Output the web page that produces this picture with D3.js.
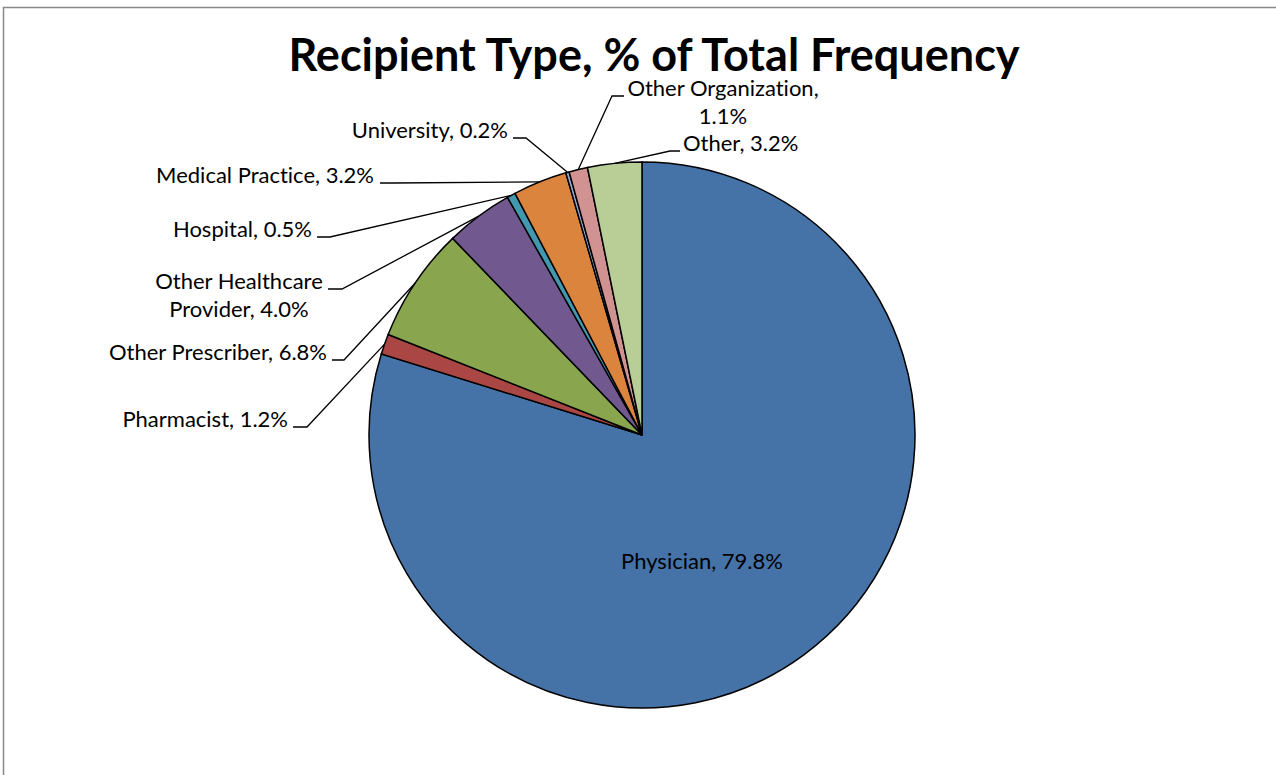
<!DOCTYPE html>
<html lang="en">
<head>
    <meta charset="UTF-8">
    <script src="https://d3js.org/d3.v7.min.js"></script>
    <style>
        body { margin: 0; background: #fff; }
        text { fill: #000; font-variant-ligatures: none; }
        .lbl { font-family: Lato, "Open Sans", sans-serif; font-size: 22px; }
        .title { font-family: Lato, "Open Sans", sans-serif; font-size: 45px; font-weight: bold; }
        .slice { stroke: #000; stroke-width: 1.5px; }
        .leader { fill: none; stroke: #000; stroke-width: 1.3px; }
    </style>
</head>
<body>
<script>
    // chart data
    var categories = ["Physician", "Pharmacist", "Other Prescriber", "Other Healthcare Provider",
        "Hospital", "Medical Practice", "University", "Other Organization", "Other"];
    var shares = [79.8, 1.2, 6.8, 4.0, 0.5, 3.2, 0.2, 1.1, 3.2];
    var palette = ["#4572A7", "#AA4643", "#89A54E", "#71588F", "#4198AF",
        "#DB843D", "#93A9CF", "#D19392", "#B9CD96"];

    // where Excel put each label (x, baseline y, anchor, line break after word n, leader start/end x)
    var labelLayout = [
        { x: 702, y: 569, anchor: "middle" },
        { x: 288, y: 427, anchor: "end", lead: [293, 307] },
        { x: 327, y: 360, anchor: "end", lead: [332, 344] },
        { x: 239, y: 289, anchor: "middle", br: 2, lead: [328, 342] },
        { x: 312, y: 237, anchor: "end", lead: [317, 330] },
        { x: 374, y: 183, anchor: "end", lead: [380, 393] },
        { x: 508, y: 138, anchor: "end", lead: [513, 526] },
        { x: 723, y: 96, anchor: "middle", br: 2, lead: [624, 612] },
        { x: 683, y: 151, anchor: "start", lead: [680, 670] }
    ];

    var width = 1276, height = 775;
    var cx = 642, cy = 435, radius = 273;

    var svg = d3.select("body").append("svg")
        .attr("width", width)
        .attr("height", height);

    // outer frame (only top and left edges show)
    svg.append("rect")
        .attr("x", 3.5).attr("y", 7.5)
        .attr("width", 1400).attr("height", 900)
        .attr("fill", "none")
        .attr("stroke", "#898989")
        .attr("stroke-width", 1.5);

    svg.append("text")
        .attr("class", "title")
        .attr("x", 654).attr("y", 71)
        .attr("text-anchor", "middle")
        .text("Recipient Type, % of Total Frequency");

    var pie = d3.pie().sort(null).value(function (d) { return d; });
    var arcs = pie(shares);

    var arc = d3.arc().innerRadius(0).outerRadius(radius);
    var rim = d3.arc().innerRadius(radius).outerRadius(radius);

    var g = svg.append("g").attr("transform", "translate(" + cx + "," + cy + ")");

    g.selectAll("path.slice")
        .data(arcs)
        .enter().append("path")
        .attr("class", "slice")
        .attr("d", arc)
        .attr("fill", function (d, i) { return palette[i]; });

    // leader lines
    arcs.forEach(function (d, i) {
        var L = labelLayout[i];
        if (!L.lead) return;
        var p = rim.centroid(d);
        var pts = [[L.lead[0], L.y], [L.lead[1], L.y], [p[0] + cx, p[1] + cy]];
        svg.append("path")
            .attr("class", "leader")
            .attr("d", d3.line()(pts));
    });

    // labels
    arcs.forEach(function (d, i) {
        var L = labelLayout[i];
        var label = categories[i] + ", " + shares[i].toFixed(1) + "%";
        var lines = [label];
        if (L.br) {
            var words = label.split(" ");
            lines = [words.slice(0, L.br).join(" "), words.slice(L.br).join(" ")];
        }
        var t = svg.append("text")
            .attr("class", "lbl")
            .attr("text-anchor", L.anchor);
        lines.forEach(function (s, k) {
            t.append("tspan")
                .attr("x", L.x)
                .attr("y", L.y + k * 28)
                .text(s);
        });
    });
</script>
</body>
</html>
